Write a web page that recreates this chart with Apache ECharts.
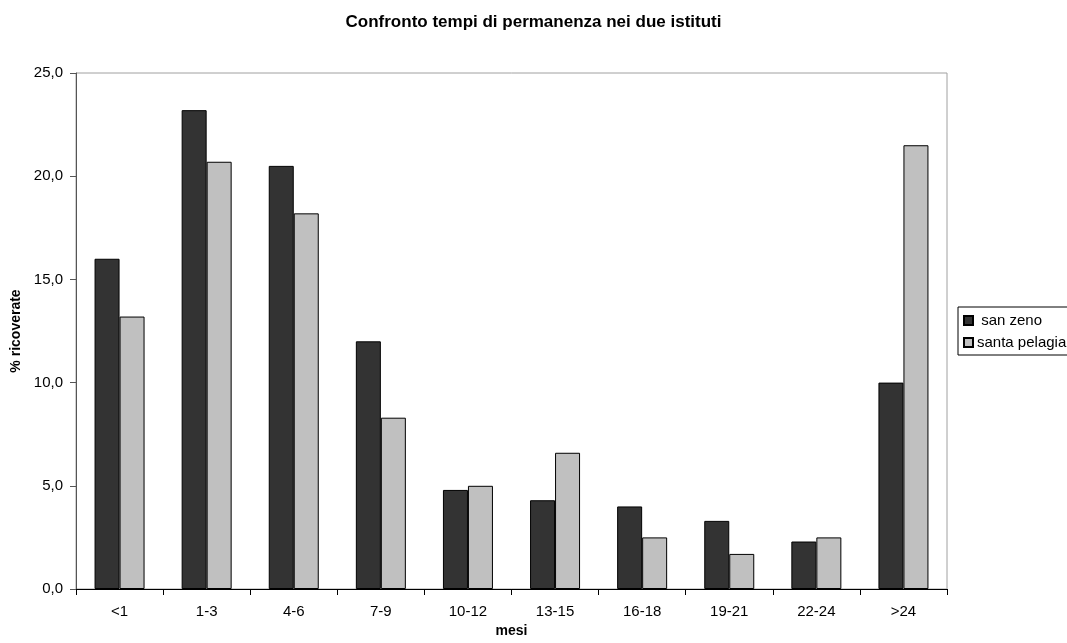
<!DOCTYPE html>
<html>
<head>
<meta charset="utf-8">
<title>Confronto tempi di permanenza nei due istituti</title>
<script src="https://cdn.jsdelivr.net/npm/echarts@6/dist/echarts.min.js"></script>
<style>
  html, body { margin: 0; padding: 0; background: #ffffff; }
  #chart { width: 1067px; height: 643px; }
</style>
</head>
<body>
<div id="chart"></div>
<script>
// Categorie: mesi di permanenza
const categories = ['<1', '1-3', '4-6', '7-9', '10-12', '13-15', '16-18', '19-21', '22-24', '>24'];

// % ricoverate per istituto
const sanZeno = [16.0, 23.2, 20.5, 12.0, 4.8, 4.3, 4.0, 3.3, 2.3, 10.0];
const santaPelagia = [13.2, 20.7, 18.2, 8.3, 5.0, 6.6, 2.5, 1.7, 2.5, 21.5];

// Valori dell'asse y
const yTicks = [0, 5, 10, 15, 20, 25];

const FONT = "'Liberation Sans', Arial, sans-serif";

const chart = echarts.init(document.getElementById('chart'), null, { renderer: 'canvas' });

chart.setOption({
  backgroundColor: '#ffffff',
  animation: false,
  title: {
    text: 'Confronto tempi di permanenza nei due istituti',
    left: 'center',
    top: 14,
    padding: 0,
    textStyle: { fontFamily: FONT, fontSize: 17, fontWeight: 'bold', color: '#000000' }
  },
  legend: {
    orient: 'vertical',
    left: 958,
    top: 307,
    padding: [6, 5, 5, 5],
    itemWidth: 9,
    itemHeight: 9,
    itemGap: 7,
    borderColor: '#000000',
    borderWidth: 1,
    backgroundColor: '#ffffff',
    icon: 'rect',
    textStyle: { fontFamily: FONT, fontSize: 15, color: '#000000', padding: [0, 0, 0, -1] },
    data: [' san zeno', 'santa pelagia']
  },
  grid: {
    left: 76,
    right: 120,
    top: 73,
    bottom: 53,
    show: true,
    borderColor: '#a0a0a0',
    borderWidth: 1,
    backgroundColor: '#ffffff'
  },
  xAxis: {
    type: 'category',
    data: categories,
    name: 'mesi',
    nameLocation: 'middle',
    nameGap: 35,
    nameTextStyle: { fontFamily: FONT, fontSize: 14, fontWeight: 'bold', color: '#000000' },
    axisLine: { show: true, lineStyle: { color: '#000000', width: 1 } },
    axisTick: { show: true, length: 6, lineStyle: { color: '#000000' } },
    axisLabel: { fontFamily: FONT, fontSize: 15, color: '#000000', margin: 15 },
    splitLine: { show: false }
  },
  yAxis: {
    type: 'value',
    min: yTicks[0],
    max: yTicks[yTicks.length - 1],
    interval: yTicks[1] - yTicks[0],
    name: '% ricoverate',
    nameLocation: 'middle',
    nameGap: 52,
    nameTextStyle: { fontFamily: FONT, fontSize: 14, fontWeight: 'bold', color: '#000000' },
    axisLine: { show: true, lineStyle: { color: '#555555', width: 1 } },
    axisTick: { show: true, length: 6, lineStyle: { color: '#555555' } },
    axisLabel: {
      fontFamily: FONT, fontSize: 15, color: '#000000', margin: 13,
      formatter: v => v.toFixed(1).replace('.', ',')
    },
    splitLine: { show: false }
  },
  series: [
    {
      name: ' san zeno',
      type: 'bar',
      data: sanZeno,
      barWidth: 25,
      barGap: '0%',
      itemStyle: { color: '#333333', borderColor: '#000000', borderWidth: 1 }
    },
    {
      name: 'santa pelagia',
      type: 'bar',
      data: santaPelagia,
      barWidth: 25,
      barGap: '0%',
      itemStyle: { color: '#c0c0c0', borderColor: '#000000', borderWidth: 1 }
    }
  ]
});
</script>
</body>
</html>
